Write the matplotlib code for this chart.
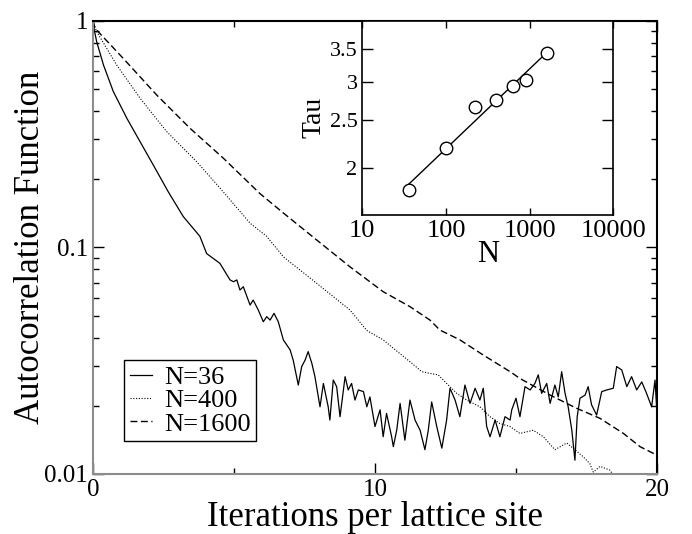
import numpy as np
import matplotlib
matplotlib.use("Agg")
import matplotlib.pyplot as plt
from matplotlib.ticker import LogLocator, NullLocator, NullFormatter

plt.rcParams['font.family'] = ['Liberation Serif', 'DejaVu Serif']

# N=36 (noisy)
t36 = [0, 0.01, 0.13, 0.37, 0.72, 1.20, 1.67, 2.14, 2.67, 3.20, 3.79, 4.03, 4.50, 4.68,
       4.86, 4.98, 5.10, 5.21, 5.33, 5.57, 5.68, 5.86, 6.04, 6.16, 6.28, 6.42, 6.57, 6.75,
       6.99, 7.10, 7.28, 7.40, 7.52, 7.63, 7.76, 7.87, 8.05, 8.17, 8.34, 8.40, 8.52, 8.64,
       8.76, 8.94, 9.05, 9.17, 9.29, 9.41, 9.59, 9.71, 9.82, 10.00, 10.18, 10.29, 10.41,
       10.59, 10.65, 10.77, 10.89, 11.06, 11.24, 11.42, 11.60, 11.77, 11.89, 12.01, 12.19,
       12.37, 12.54, 12.66, 12.84, 13.01, 13.19, 13.37, 13.55, 13.72, 13.84, 13.96, 14.08,
       14.26, 14.43, 14.61, 14.79, 14.85, 15.00, 15.14, 15.32, 15.50, 15.67, 15.79, 15.91,
       16.09, 16.21, 16.38, 16.50, 16.62, 16.74, 16.85, 16.98, 17.09, 17.17, 17.27, 17.45,
       17.56, 17.68, 17.86, 18.04, 18.22, 18.45, 18.57, 18.75, 18.93, 19.10, 19.28, 19.46,
       19.63, 19.81, 19.93, 20.0]
c36 = [1.0, 0.96, 0.81, 0.64, 0.488, 0.372, 0.293, 0.231, 0.176, 0.137, 0.112, 0.094, 0.0851,
       0.0782, 0.0719, 0.0706, 0.0719, 0.0649, 0.0671, 0.0557, 0.0586, 0.0530, 0.0470, 0.0495,
       0.0478, 0.0512, 0.0470, 0.0391, 0.0353, 0.0318, 0.0247, 0.0298, 0.0318, 0.0347, 0.0308,
       0.0269, 0.0198, 0.0251, 0.0198, 0.0173, 0.0260, 0.0243, 0.0179, 0.0269, 0.0235, 0.0251,
       0.0212, 0.0235, 0.0231, 0.0198, 0.0219, 0.0162, 0.0192, 0.0146, 0.0185, 0.0146, 0.0132,
       0.0156, 0.0205, 0.0141, 0.0212, 0.0173, 0.0156, 0.0128, 0.0156, 0.0208, 0.0162, 0.0130,
       0.0173, 0.0239, 0.0212, 0.0179, 0.0247, 0.0205, 0.0239, 0.0212, 0.0239, 0.0162, 0.0146,
       0.0173, 0.0146, 0.0179, 0.0173, 0.0192, 0.0216, 0.0179, 0.0243, 0.0235, 0.0251, 0.0274,
       0.0227, 0.0251, 0.0205, 0.0247, 0.0219, 0.0283, 0.0227, 0.0198, 0.0156, 0.0115, 0.0179,
       0.0216, 0.0223, 0.0243, 0.0202, 0.0182, 0.0231, 0.0235, 0.0239, 0.0298, 0.0288, 0.0243,
       0.0269, 0.0235, 0.0255, 0.0227, 0.0198, 0.0260, 0.0185]

# N=400
t400 = [0, 0.13, 0.84, 1.67, 2.61, 3.68, 4.62, 5.57, 6.16, 6.75, 7.93, 9.11, 9.71, 10.29,
        10.65, 11.24, 11.66, 11.95, 12.24, 12.54, 12.90, 13.25, 13.72, 14.08, 14.43, 14.79,
        15.14, 15.61, 15.97, 16.38, 16.80, 17.09, 17.39, 17.62, 17.74, 17.98, 18.33, 18.45]
c400 = [1.0, 0.897, 0.639, 0.456, 0.325, 0.239, 0.176, 0.128, 0.112, 0.091, 0.0695, 0.0530,
        0.0430, 0.0391, 0.0359, 0.0313, 0.0283, 0.0278, 0.0274, 0.0251, 0.0227, 0.0212, 0.0198,
        0.0179, 0.0167, 0.0162, 0.0151, 0.0156, 0.0146, 0.0128, 0.0137, 0.0128, 0.0119, 0.0111,
        0.0102, 0.0108, 0.0104, 0.0099]

# N=1600
t1600 = [0, 0.07, 1.07, 2.26, 3.44, 4.62, 5.92, 6.75, 7.93, 9.11, 10.29, 11.24, 11.95, 12.30,
         13.01, 13.84, 14.79, 15.14, 16.21, 17.15, 17.98, 18.81, 19.40, 20.0]
c1600 = [1.0, 0.929, 0.684, 0.471, 0.336, 0.248, 0.173, 0.142, 0.108, 0.0822, 0.0638, 0.0548,
         0.0478, 0.0432, 0.0391, 0.0335, 0.0283, 0.0264, 0.0223, 0.0195, 0.0176, 0.0151, 0.0132,
         0.0121]

# inset: tau vs N
N = [36, 100, 225, 400, 625, 900, 1600]
tau = [1.80, 2.19, 2.66, 2.75, 2.94, 3.03, 3.44]

fig = plt.figure(figsize=(6.92, 5.34), dpi=100)
ax = fig.add_axes([0.1344, 0.1124, 0.8150, 0.8483])

ax.plot(t36, c36, color='k', lw=0.9, label='N=36')
ax.plot(t400, c400, color='k', ls=(0, (1, 1.5)), lw=0.8, label='N=400')
ax.plot(t1600, c1600, color='k', ls=(0, (5, 2.5)), lw=1.0, label='N=1600')

ax.set_yscale('log')
ax.set_xlim(0, 20)
ax.set_ylim(0.01, 1)
ax.set_yticks([0.01, 0.1, 1])
ax.set_yticklabels(['0.01', '0.1', '1'])
ax.yaxis.set_minor_locator(LogLocator(base=10, subs=range(2, 10)))
ax.yaxis.set_minor_formatter(NullFormatter())
ax.set_xticks([0, 10, 20])
ax.set_xticks([5, 15], minor=True)
ax.tick_params(which='both', direction='in', top=True, right=True, labelsize=18)
ax.tick_params(which='major', length=8, width=1)
ax.tick_params(which='minor', length=4.5, width=1)
for s in ['left', 'bottom']:
    ax.spines[s].set_color('0.55')
    ax.spines[s].set_linewidth(1.5)
for s in ['top', 'right']:
    ax.spines[s].set_linewidth(1.5)

ax.set_xlabel('Iterations per lattice site', fontsize=25, labelpad=0)
ax.set_ylabel('Autocorrelation Function', fontsize=25, labelpad=-2)

leg = ax.legend(loc='lower left', bbox_to_anchor=(0.0555, 0.0728), borderaxespad=0,
                fontsize=19, fancybox=False, framealpha=1, edgecolor='k',
                handlelength=0.85, handletextpad=0.45, borderpad=0.2, labelspacing=0.0)
leg.get_frame().set_linewidth(1.0)

# inset
axin = fig.add_axes([0.5236, 0.5974, 0.3627, 0.3638])
axin.set_xscale('log')
axin.set_yscale('log')
p = np.polyfit(np.log10(N), np.log10(tau), 1)
nfit = np.array([N[0], N[-1]])
axin.plot(nfit, 10 ** np.polyval(p, np.log10(nfit)), color='k', lw=1)
axin.plot(N, tau, 'o', mfc='white', mec='k', ms=9, mew=1)
axin.set_xlim(10, 10000)
axin.set_ylim(1.6, 4)
axin.set_xticks([10, 100, 1000, 10000])
axin.set_xticklabels(['10', '100', '1000', '10000'])
axin.set_yticks([2, 2.5, 3, 3.5])
axin.set_yticklabels(['2', '2.5', '3', '3.5'])
axin.yaxis.set_minor_locator(NullLocator())
axin.tick_params(which='both', direction='in', top=True, right=True)
axin.tick_params(axis='x', which='both', labelsize=19)
axin.tick_params(axis='y', which='both', labelsize=16)
axin.tick_params(axis='x', which='major', length=5, width=1)
axin.tick_params(axis='x', which='minor', length=3, width=1)
axin.tick_params(axis='y', which='major', length=8, width=1)
for s in axin.spines.values():
    s.set_linewidth(1.2)
axin.set_xlabel('N', fontsize=22, labelpad=-1)
axin.set_ylabel('Tau', fontsize=20, labelpad=2)

fig.savefig('out.png', dpi=100)
